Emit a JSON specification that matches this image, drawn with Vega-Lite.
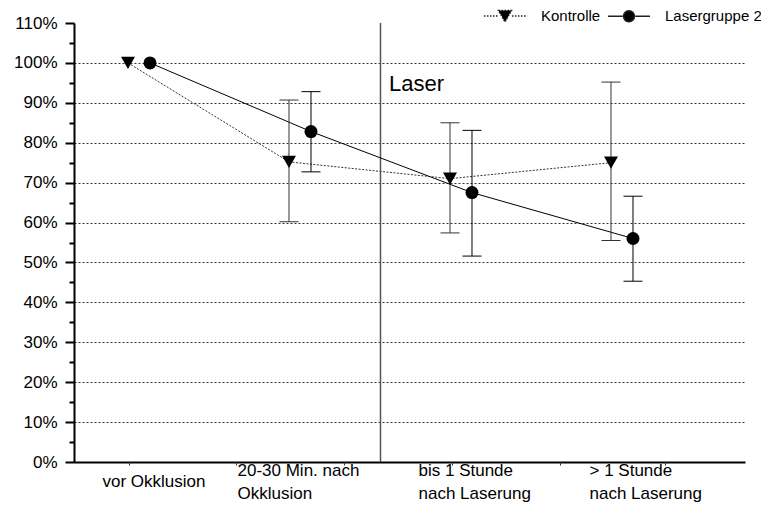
{
  "$schema": "https://vega.github.io/schema/vega-lite/v6.json",
  "width": 671,
  "height": 439,
  "autosize": {"type": "none"},
  "padding": {"left": 74, "top": 23, "right": 16, "bottom": 48},
  "background": "white",
  "config": {"font": "Liberation Sans", "view": {"stroke": null}},
  "data": {"values": [
    {"series": "Kontrolle", "t": 1, "m": 1.0},
    {"series": "Kontrolle", "t": 2, "m": 0.752, "lo": 0.602, "hi": 0.907},
    {"series": "Kontrolle", "t": 3, "m": 0.710, "lo": 0.574, "hi": 0.850},
    {"series": "Kontrolle", "t": 4, "m": 0.750, "lo": 0.555, "hi": 0.952},
    {"series": "Lasergruppe 2", "t": 1, "m": 1.0},
    {"series": "Lasergruppe 2", "t": 2, "m": 0.828, "lo": 0.727, "hi": 0.928},
    {"series": "Lasergruppe 2", "t": 3, "m": 0.675, "lo": 0.516, "hi": 0.831},
    {"series": "Lasergruppe 2", "t": 4, "m": 0.560, "lo": 0.453, "hi": 0.666}
  ]},
  "resolve": {"axis": {"x": "independent", "y": "independent"}},
  "layer": [
    {
      "data": {"values": [{}]},
      "mark": {"type": "rule", "stroke": "#555", "strokeWidth": 1.5},
      "encoding": {
        "x": {"datum": 2.5, "type": "quantitative", "scale": {"domain": [0.5963, 4.764], "nice": false, "zero": false},
          "axis": {"title": null, "orient": "bottom", "values": [1, 2, 3, 4], "grid": false, "ticks": false, "tickSize": 0,
            "domainColor": "#000", "domainWidth": 2,
            "labelExpr": "datum.value == 1 ? 'vor Okklusion' : datum.value == 2 ? ['20-30 Min. nach', 'Okklusion'] : datum.value == 3 ? ['bis 1 Stunde', 'nach Laserung'] : ['> 1 Stunde', 'nach Laserung']",
            "labelAlign": "left", "labelPadding": 8, "labelFontSize": 17, "labelColor": "#000",
            "labelBaseline": {"condition": {"test": "datum.value == 1", "value": "line-top"}, "value": "middle"},
            "labelFont": "Liberation Sans", "labelLineHeight": 23, "labelFlush": false, "labelOverlap": false, "labelBound": false,
            "labelOffset": {"condition": [{"test": "datum.value == 1", "value": -37}, {"test": "datum.value == 2", "value": -63}, {"test": "datum.value == 3", "value": -43}], "value": -33}
          }
        }
      }
    },
    {
      "transform": [{"filter": "datum.series == 'Kontrolle'"}],
      "mark": {"type": "line", "stroke": "#333", "strokeWidth": 1, "strokeDash": [2, 1.5], "xOffset": -11},
      "encoding": {
        "x": {"field": "t", "type": "quantitative", "scale": {"domain": [0.5963, 4.764], "nice": false, "zero": false}, "axis": null},
        "y": {"field": "m", "type": "quantitative", "scale": {"domain": [0, 1.1], "nice": false, "zero": true},
          "axis": {"title": null, "orient": "left", "values": [0, 0.1, 0.2, 0.3, 0.4, 0.5, 0.6, 0.7, 0.8, 0.9, 1.0, 1.1], "format": ".0%",
            "grid": true, "gridColor": "#333", "gridDash": [2, 2], "gridWidth": 1,
            "gridOpacity": {"condition": {"test": "datum.value > 1.05", "value": 0}, "value": 1},
            "domainColor": "#000", "domainWidth": 2, "tickColor": "#000", "tickSize": 9, "tickWidth": 2,
            "labelFontSize": 17, "labelColor": "#000", "labelFont": "Liberation Sans", "labelPadding": 8
          }
        }
      }
    },
    {
      "transform": [{"filter": "datum.series == 'Lasergruppe 2'"}],
      "mark": {"type": "line", "stroke": "#000", "strokeWidth": 1, "xOffset": 11},
      "encoding": {
        "x": {"field": "t", "type": "quantitative", "scale": {"domain": [0.5963, 4.764], "nice": false, "zero": false},
          "axis": {"title": null, "orient": "bottom", "values": [0.938, 1.602, 2.273, 2.944, 3.615, 4.267], "labels": false, "domain": false, "grid": false, "tickSize": 3, "tickWidth": 1, "tickColor": "#333"}},
        "y": {"field": "m", "type": "quantitative", "scale": {"domain": [0, 1.1], "nice": false, "zero": true},
          "axis": {"title": null, "orient": "left", "values": [0.05, 0.15, 0.25, 0.35, 0.45, 0.55, 0.65, 0.75, 0.85, 0.95, 1.05], "labels": false, "domain": false, "grid": false, "tickSize": 5, "tickWidth": 2, "tickColor": "#000"}}
      }
    },
    {
      "transform": [{"filter": "datum.series == 'Kontrolle' && isValid(datum.lo)"}],
      "mark": {"type": "rule", "stroke": "#333", "strokeWidth": 1, "xOffset": -11},
      "encoding": {
        "x": {"field": "t", "type": "quantitative", "axis": null},
        "y": {"field": "lo", "type": "quantitative", "axis": null},
        "y2": {"field": "hi"}
      }
    },
    {
      "transform": [{"filter": "datum.series == 'Kontrolle' && isValid(datum.lo)"}],
      "mark": {"type": "tick", "orient": "horizontal", "color": "#333", "size": 19, "thickness": 1, "opacity": 1, "xOffset": -11},
      "encoding": {
        "x": {"field": "t", "type": "quantitative", "axis": null},
        "y": {"field": "lo", "type": "quantitative", "axis": null}
      }
    },
    {
      "transform": [{"filter": "datum.series == 'Kontrolle' && isValid(datum.hi)"}],
      "mark": {"type": "tick", "orient": "horizontal", "color": "#333", "size": 19, "thickness": 1, "opacity": 1, "xOffset": -11},
      "encoding": {
        "x": {"field": "t", "type": "quantitative", "axis": null},
        "y": {"field": "hi", "type": "quantitative", "axis": null}
      }
    },
    {
      "transform": [{"filter": "datum.series == 'Lasergruppe 2' && isValid(datum.lo)"}],
      "mark": {"type": "rule", "stroke": "#000", "strokeWidth": 1, "xOffset": 11},
      "encoding": {
        "x": {"field": "t", "type": "quantitative", "axis": null},
        "y": {"field": "lo", "type": "quantitative", "axis": null},
        "y2": {"field": "hi"}
      }
    },
    {
      "transform": [{"filter": "datum.series == 'Lasergruppe 2' && isValid(datum.lo)"}],
      "mark": {"type": "tick", "orient": "horizontal", "color": "#000", "size": 19, "thickness": 1, "opacity": 1, "xOffset": 11},
      "encoding": {
        "x": {"field": "t", "type": "quantitative", "axis": null},
        "y": {"field": "lo", "type": "quantitative", "axis": null}
      }
    },
    {
      "transform": [{"filter": "datum.series == 'Lasergruppe 2' && isValid(datum.hi)"}],
      "mark": {"type": "tick", "orient": "horizontal", "color": "#000", "size": 19, "thickness": 1, "opacity": 1, "xOffset": 11},
      "encoding": {
        "x": {"field": "t", "type": "quantitative", "axis": null},
        "y": {"field": "hi", "type": "quantitative", "axis": null}
      }
    },
    {
      "transform": [{"filter": "datum.series == 'Kontrolle'"}],
      "mark": {"type": "point", "filled": true, "size": 196, "shape": "triangle-down", "color": "#000", "opacity": 1, "xOffset": -11},
      "encoding": {
        "x": {"field": "t", "type": "quantitative", "axis": null},
        "y": {"field": "m", "type": "quantitative", "axis": null}
      }
    },
    {
      "transform": [{"filter": "datum.series == 'Lasergruppe 2'"}],
      "mark": {"type": "point", "filled": true, "size": 169, "shape": "circle", "color": "#000", "opacity": 1, "xOffset": 11},
      "encoding": {
        "x": {"field": "t", "type": "quantitative", "axis": null},
        "y": {"field": "m", "type": "quantitative", "axis": null}
      }
    },
    {
      "transform": [{"filter": "false"}],
      "mark": {"type": "point", "filled": true, "fill": "#000", "stroke": "#222", "strokeWidth": 1, "opacity": 1},
      "encoding": {
        "shape": {"field": "series", "type": "nominal",
          "scale": {"domain": ["Kontrolle", "Lasergruppe 2"], "range": ["M-1,0L-0.33,0M0.33,0L1,0M-0.31,-0.26L0.31,-0.26L0,0.28Z", "M-1,0L-0.3,0M0.3,0L1,0M0.26,0A0.26,0.26,0,1,1,-0.26,0A0.26,0.26,0,1,1,0.26,0Z"]},
          "legend": {"title": null, "orient": "none", "legendX": 409, "legendY": -29, "direction": "horizontal", "padding": 0,
            "symbolSize": 1764, "symbolOpacity": 1,
            "labelFontSize": 15, "labelColor": "#000", "labelFont": "Liberation Sans", "labelOffset": 14, "columnPadding": 4}
        },
        "strokeDash": {"field": "series", "type": "nominal",
          "scale": {"domain": ["Kontrolle", "Lasergruppe 2"], "range": [[1.5, 1.5], [10, 0]]},
          "legend": {"title": null, "orient": "none", "legendX": 409, "legendY": -29, "direction": "horizontal", "padding": 0,
            "symbolSize": 1764, "symbolOpacity": 1,
            "labelFontSize": 15, "labelColor": "#000", "labelFont": "Liberation Sans", "labelOffset": 14, "columnPadding": 4}
        }
      }
    },
    {
      "data": {"values": [{}]},
      "mark": {"type": "text", "text": "Laser", "align": "left", "baseline": "middle", "fontSize": 22, "font": "Liberation Sans", "color": "#000"},
      "encoding": {
        "x": {"datum": 2.553, "type": "quantitative", "axis": null},
        "y": {"datum": 0.947, "type": "quantitative", "axis": null}
      }
    }
  ]
}
